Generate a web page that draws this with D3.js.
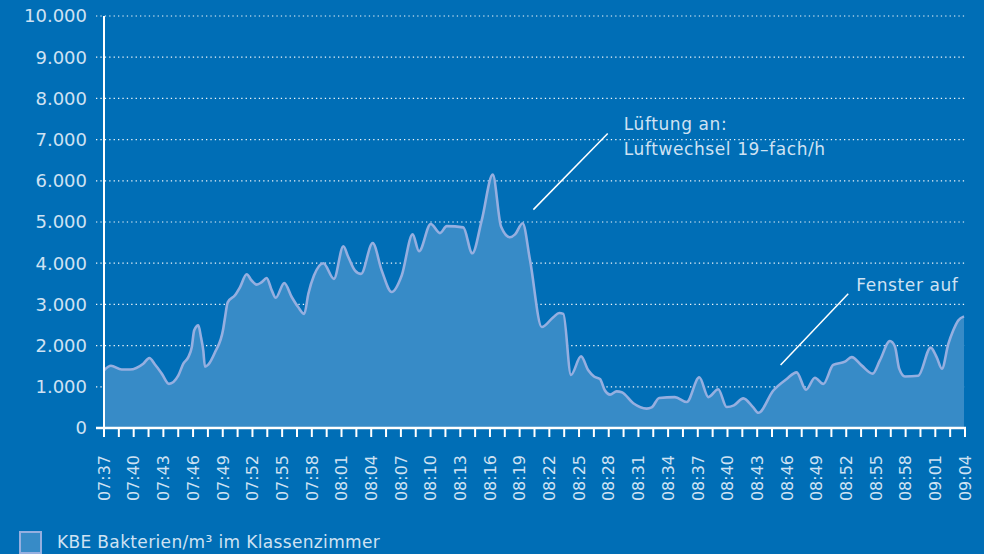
<!DOCTYPE html>
<html>
<head>
<meta charset="utf-8">
<script src="https://cdn.jsdelivr.net/npm/d3@7"></script>
<style>
  html, body { margin: 0; padding: 0; background: #006eb6; }
  svg { display: block; }
  text { font-family: "DejaVu Sans", sans-serif; fill: #cfe2f3; }
</style>
</head>
<body>
<svg id="chart"></svg>
<script>
const width = 984;
const height = 554;

const times = [
  "07:37:00", "07:37:42", "07:38:47", "07:39:38", "07:40:58", "07:41:35", "07:42:09", "07:42:50",
  "07:43:34", "07:44:30", "07:45:01", "07:45:31", "07:45:52", "07:46:07", "07:46:32", "07:46:48",
  "07:47:02", "07:47:12", "07:47:32", "07:48:13", "07:49:03", "07:49:14", "07:49:30", "07:50:14",
  "07:50:45", "07:51:25", "07:51:55", "07:52:26", "07:52:56", "07:53:26", "07:53:57", "07:54:21",
  "07:55:13", "07:55:58", "07:56:38", "07:57:14", "07:57:39", "07:58:13", "07:59:10", "08:00:14",
  "08:01:11", "08:01:41", "08:02:22", "08:02:58", "08:04:09", "08:05:04", "08:06:04", "08:07:05",
  "08:08:11", "08:08:50", "08:10:01", "08:10:57", "08:11:38", "08:13:18", "08:14:13", "08:15:10",
  "08:16:17", "08:17:07", "08:18:01", "08:18:32", "08:19:18", "08:20:03", "08:21:14", "08:22:24",
  "08:23:00", "08:23:25", "08:24:11", "08:25:12", "08:25:56", "08:26:31", "08:27:07", "08:27:37",
  "08:28:08", "08:28:48", "08:29:19", "08:30:29", "08:31:50", "08:32:20", "08:33:06", "08:34:41",
  "08:35:53", "08:37:09", "08:38:04", "08:39:04", "08:39:55", "08:40:39", "08:41:36", "08:42:36",
  "08:43:07", "08:44:38", "08:45:59", "08:46:59", "08:47:56", "08:48:50", "08:49:41", "08:50:41",
  "08:51:52", "08:52:33", "08:53:33", "08:54:40", "08:55:24", "08:56:25", "08:56:55", "08:57:21",
  "08:57:56", "08:59:17", "09:00:32", "09:01:08", "09:01:40", "09:02:19", "09:02:49", "09:03:19",
  "09:03:54"
];

// KBE Bakterien/m3
const values = [
  1400, 1510, 1420, 1420, 1560, 1700, 1540, 1320,
  1070, 1270, 1560, 1720, 1960, 2370, 2490, 2200,
  1880, 1490, 1540, 1840, 2410, 2690, 3050, 3220,
  3420, 3730, 3580, 3480, 3540, 3640, 3340, 3160,
  3520, 3180, 2930, 2770, 3260, 3700, 4000, 3620,
  4410, 4150, 3820, 3740, 4490, 3820, 3300, 3700,
  4700, 4290, 4950, 4730, 4900, 4870, 4240, 5040,
  6150, 4890, 4630, 4700, 4970, 4070, 2450, 2690,
  2790, 2770, 1290, 1740, 1400, 1250, 1190, 910,
  810, 890, 870, 600, 470, 500, 730, 750,
  630, 1230, 750, 940, 510, 550, 720, 500,
  370, 910, 1190, 1350, 930, 1220, 1070, 1530,
  1610, 1720, 1520, 1320, 1640, 2110, 1980, 1440,
  1250, 1270, 1950, 1720, 1440, 2040, 2370, 2610,
  2710
];

const yTicks = [0, 1000, 2000, 3000, 4000, 5000, 6000, 7000, 8000, 9000, 10000];
const timeStart = "07:37:00";
const timeEnd = "09:04:00";

// pointer lines: from (time, value) to (time2, value2), text next to the upper end
const annotations = [
  { lines: ["Lüftung an:", "Luftwechsel 19–fach/h"], time: "08:20:23", value: 5300, time2: "08:27:54", value2: 7150, dx: 16, dy: -3 },
  { lines: ["Fenster auf"], time: "08:45:22", value: 1530, time2: "08:52:12", value2: 3260, dx: 8, dy: -3 }
];
const legendLabel = "KBE Bakterien/m³ im Klassenzimmer";

const parseTime = d3.timeParse("%H:%M:%S");
const data = times.map((t, i) => ({ t: parseTime(t), v: values[i] }));

const de = d3.formatLocale({ decimal: ",", thousands: ".", grouping: [3], currency: ["", " €"] });
const fmt = de.format(",");

const margin = { left: 104, right: 19, top: 16, bottom: 126 };

const svg = d3.select("#chart")
    .attr("width", width)
    .attr("height", height);

const x = d3.scaleTime()
    .domain([parseTime(timeStart), parseTime(timeEnd)])
    .range([margin.left, width - margin.right]);

const y = d3.scaleLinear()
    .domain([0, 10000])
    .range([height - margin.bottom, margin.top]);

// dotted grid lines
svg.append("g")
  .selectAll("line")
  .data(yTicks)
  .join("line")
    .attr("x1", margin.left - 8)
    .attr("x2", width - margin.right + 2)
    .attr("y1", d => y(d))
    .attr("y2", d => y(d))
    .attr("stroke", "#ffffff")
    .attr("stroke-width", 1.2)
    .attr("stroke-dasharray", "1.3 3.1")
    .attr("opacity", d => d === 0 ? 0 : 0.95);

// y labels
svg.append("g")
  .selectAll("text")
  .data(yTicks)
  .join("text")
    .attr("x", 87)
    .attr("y", d => y(d))
    .attr("dy", "0.36em")
    .attr("text-anchor", "end")
    .style("font-size", "18px")
    .text(d => fmt(d));

// area + line
const curve = d3.curveMonotoneX;
const area = d3.area()
    .x(d => x(d.t))
    .y0(y(0))
    .y1(d => y(d.v))
    .curve(curve);
const line = d3.line()
    .x(d => x(d.t))
    .y(d => y(d.v))
    .curve(curve);

svg.append("path")
    .datum(data)
    .attr("d", area)
    .attr("fill", "#378bc7");

svg.append("path")
    .datum(data)
    .attr("d", line)
    .attr("fill", "none")
    .attr("stroke", "#95afe0")
    .attr("stroke-width", 2.6)
    .attr("stroke-linejoin", "round");

// axes
const tickTimes = d3.range(59).map(i => d3.timeSecond.offset(parseTime(timeStart), i * 90));

svg.append("line")
    .attr("x1", margin.left)
    .attr("x2", margin.left)
    .attr("y1", y(10000))
    .attr("y2", y(0))
    .attr("stroke", "#ffffff")
    .attr("stroke-width", 2);

svg.append("line")
    .attr("x1", margin.left - 8)
    .attr("x2", x(parseTime(timeEnd)) + 1)
    .attr("y1", y(0))
    .attr("y2", y(0))
    .attr("stroke", "#ffffff")
    .attr("stroke-width", 2.4);

svg.append("g")
  .selectAll("line")
  .data(tickTimes)
  .join("line")
    .attr("x1", d => x(d))
    .attr("x2", d => x(d))
    .attr("y1", y(0))
    .attr("y2", y(0) + 9)
    .attr("stroke", "#ffffff")
    .attr("stroke-width", 2);

const timeFmt = d3.timeFormat("%H:%M");
svg.append("g")
  .selectAll("text")
  .data(tickTimes.filter((d, i) => i % 2 === 0))
  .join("text")
    .attr("transform", d => `translate(${x(d)},455) rotate(-90)`)
    .attr("dy", "0.36em")
    .attr("text-anchor", "end")
    .style("font-size", "16px")
    .text(d => timeFmt(d));

// annotations
annotations.forEach(a => {
  const x1 = x(parseTime(a.time)), y1 = y(a.value);
  const x2 = x(parseTime(a.time2)), y2 = y(a.value2);
  svg.append("line")
      .attr("x1", x1).attr("y1", y1)
      .attr("x2", x2).attr("y2", y2)
      .attr("stroke", "#ffffff")
      .attr("stroke-width", 1.5);
  const t = svg.append("text")
      .attr("x", x2 + a.dx)
      .attr("y", y2 + a.dy)
      .style("font-size", "17px")
      .style("letter-spacing", "0.6px");
  t.selectAll("tspan")
    .data(a.lines)
    .join("tspan")
      .attr("x", x2 + a.dx)
      .attr("dy", (d, i) => i === 0 ? 0 : 25)
      .text(d => d);
});

// legend
svg.append("rect")
    .attr("x", 20)
    .attr("y", 532)
    .attr("width", 21)
    .attr("height", 21)
    .attr("fill", "#378bc7")
    .attr("stroke", "#95afe0")
    .attr("stroke-width", 2);

svg.append("text")
    .attr("x", 57)
    .attr("y", 548)
    .style("font-size", "17px")
    .style("letter-spacing", "0.35px")
    .text(legendLabel);
</script>
</body>
</html>
